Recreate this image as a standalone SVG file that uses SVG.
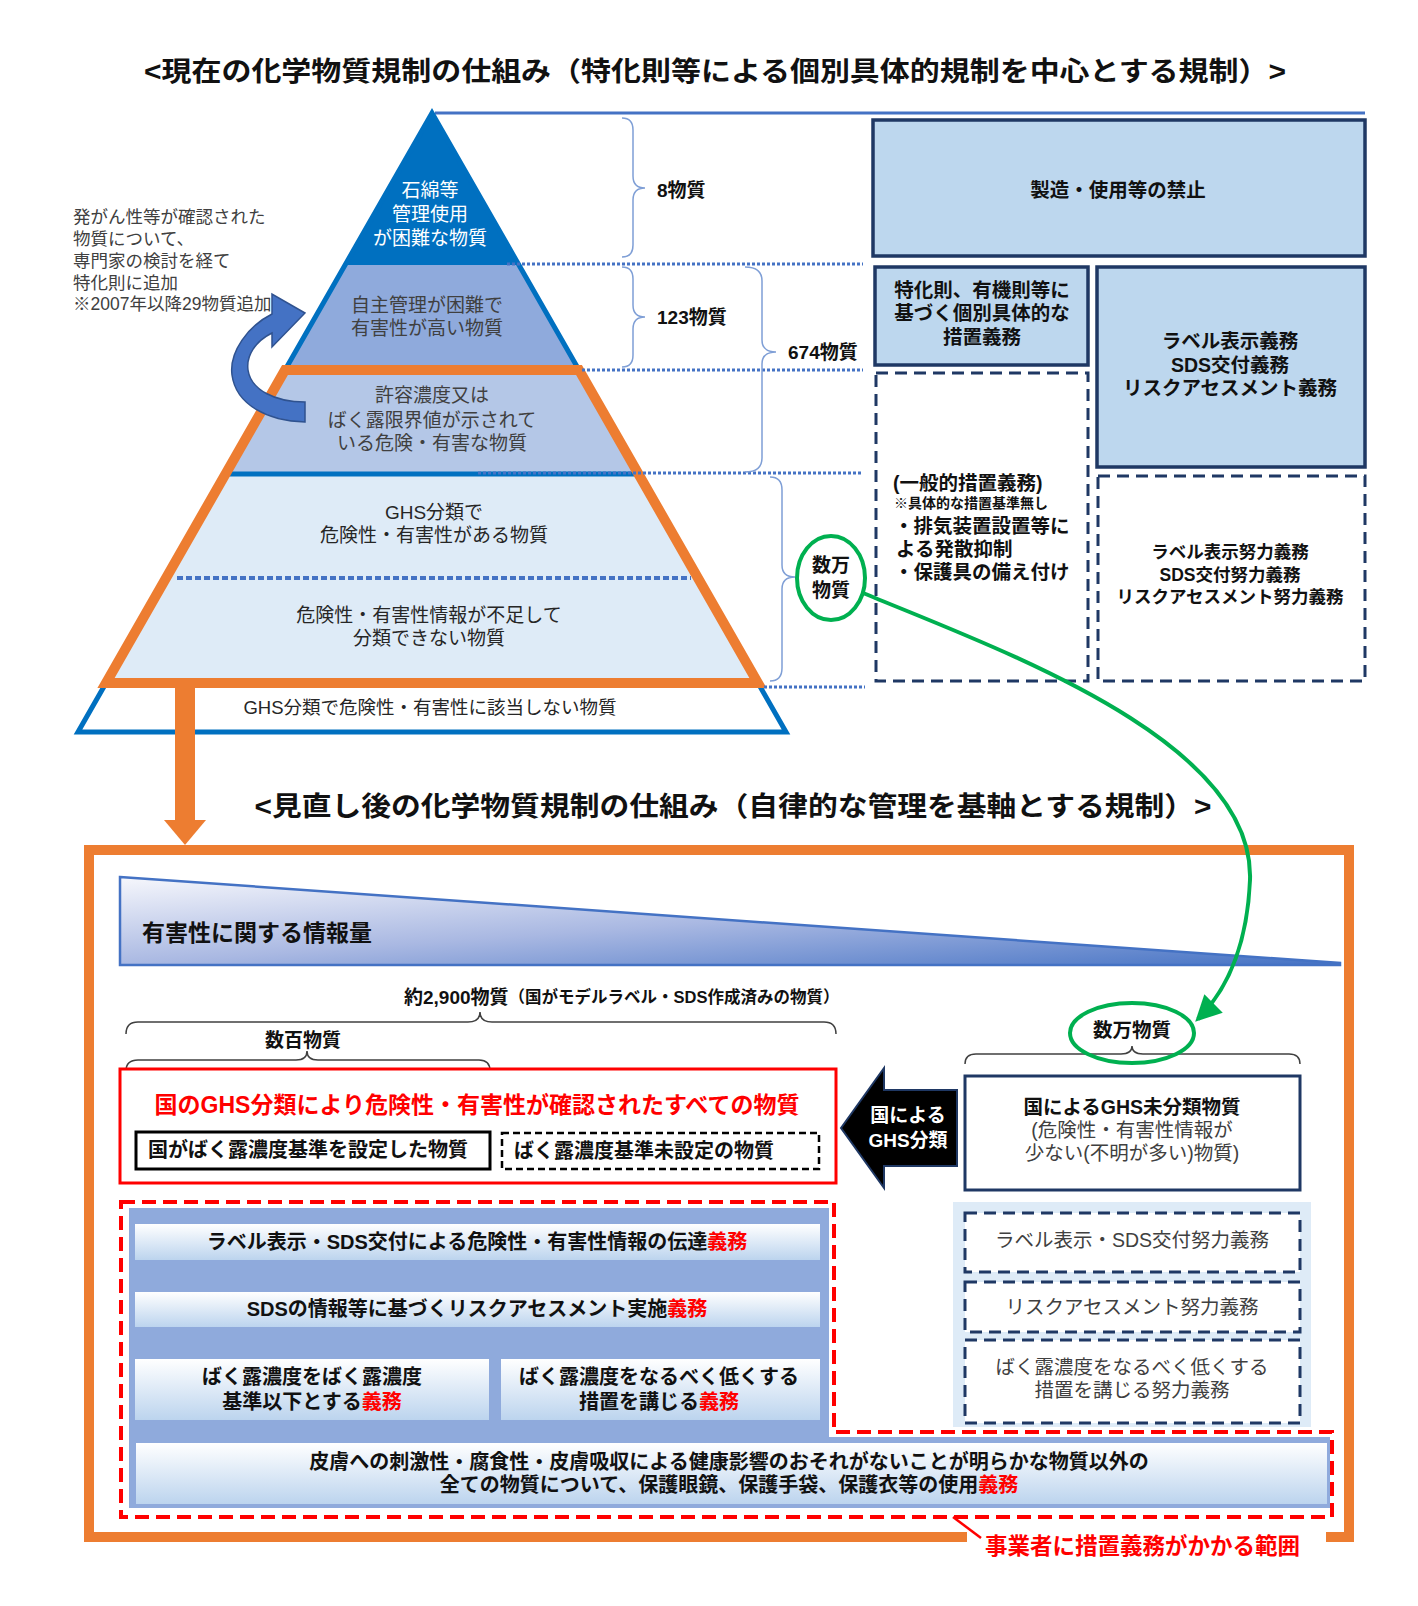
<svg xmlns="http://www.w3.org/2000/svg" width="1418" height="1606" viewBox="0 0 1418 1606">
<defs>
<style>
text{font-family:"Liberation Sans","Noto Sans CJK JP","Noto Sans CJK SC",sans-serif;}
.b{font-weight:700;fill:#111;}
.n{font-weight:400;fill:#404040;}
.r{fill:#FF0000;}
.w{fill:#FFFFFF;}
.c{text-anchor:middle;dominant-baseline:central;}
.l{dominant-baseline:central;}
.solidbox{fill:#BDD7EE;stroke:#1F3864;stroke-width:3.5;}
.dashbox{fill:#FFFFFF;stroke:#1F3864;stroke-width:3;stroke-dasharray:12 7;}
.dot{stroke:#4472C4;stroke-width:3;stroke-dasharray:3 2;fill:none;}
.brace{fill:none;stroke:#7F9FD6;stroke-width:1.5;}
.brace2{fill:none;stroke:#404040;stroke-width:1.5;}
.bar{fill:url(#barG);}
</style>
<linearGradient id="barG" x1="0" y1="0" x2="0" y2="1"><stop offset="0" stop-color="#FFFFFF"/><stop offset="1" stop-color="#BCD4EE"/></linearGradient>
<linearGradient id="infoG" x1="0" y1="0" x2="1" y2="1"><stop offset="0" stop-color="#F6F7FC"/><stop offset="0.5" stop-color="#A9B8E2"/><stop offset="1" stop-color="#4472C4"/></linearGradient>
<marker id="gArrow" markerUnits="userSpaceOnUse" markerWidth="26" markerHeight="26" viewBox="0 0 26 26" refX="22" refY="13" orient="auto"><path d="M0,0 L26,13 L0,26 z" fill="#00B050"/></marker>
</defs>
<rect x="0" y="0" width="1418" height="1606" fill="#FFFFFF"/>

<!-- titles -->
<g id="title1"><text class="b c" x="715" y="72" font-size="27" textLength="1142" lengthAdjust="spacingAndGlyphs">&lt;現在の化学物質規制の仕組み（特化則等による個別具体的規制を中心とする規制）&gt;</text></g>
<g id="title2"><text class="b c" x="733" y="807" font-size="27" textLength="957" lengthAdjust="spacingAndGlyphs">&lt;見直し後の化学物質規制の仕組み（自律的な管理を基軸とする規制）&gt;</text></g>

<!-- top blue rule -->
<line x1="435" y1="113" x2="1365" y2="113" stroke="#4472C4" stroke-width="3"/>

<!-- pyramid -->
<g id="pyramid">
<polygon points="432,113 519,265 345,265" fill="#0070C0"/>
<polygon points="345,265 519,265 579,370 285,370" fill="#8FAADC"/>
<polygon points="285,370 579,370 638.5,474 225.5,474" fill="#B4C7E7"/>
<polygon points="225.5,474 638.5,474 758,683 106,683" fill="#DEEBF7"/>
<polygon points="106,683 758,683 786,732 78,732" fill="#FFFFFF"/>
<polygon points="432,113 786,732 78,732" fill="none" stroke="#0070C0" stroke-width="5"/>
<line x1="225" y1="474" x2="639" y2="474" stroke="#0070C0" stroke-width="5"/>
<line x1="177" y1="578" x2="691" y2="578" stroke="#4472C4" stroke-width="4" stroke-dasharray="6 3"/>
<polygon points="285,370 579,370 758,683 106,683" fill="none" stroke="#ED7D31" stroke-width="10" stroke-linejoin="miter"/>
</g>
<g id="tier1"><text class="c w" x="430" y="190" font-size="19">石綿等</text><text class="c w" x="430" y="214" font-size="19">管理使用</text><text class="c w" x="430" y="238" font-size="19">が困難な物質</text></g>
<g id="tier2"><text class="n c" x="427" y="305" font-size="19">自主管理が困難で</text><text class="n c" x="427" y="328" font-size="19">有害性が高い物質</text></g>
<g id="tier3"><text class="n c" x="432" y="395" font-size="19">許容濃度又は</text><text class="n c" x="432" y="420" font-size="19">ばく露限界値が示されて</text><text class="n c" x="432" y="443" font-size="19">いる危険・有害な物質</text></g>
<g id="tier4"><text class="n c" x="434" y="512" font-size="19" style="fill:#262626">GHS分類で</text><text class="n c" x="434" y="535" font-size="19" style="fill:#262626">危険性・有害性がある物質</text></g>
<g id="tier4b"><text class="n c" x="429" y="615" font-size="19" style="fill:#262626">危険性・有害性情報が不足して</text><text class="n c" x="429" y="638" font-size="19" style="fill:#262626">分類できない物質</text></g>
<g id="tier5"><text class="n c" x="430" y="707" font-size="18.5" style="fill:#262626">GHS分類で危険性・有害性に該当しない物質</text></g>

<!-- left annotation -->
<g id="note">
<text class="n l" x="73" y="217" font-size="17.5">発がん性等が確認された</text>
<text class="n l" x="73" y="239" font-size="17.5">物質について、</text>
<text class="n l" x="73" y="261" font-size="17.5">専門家の検討を経て</text>
<text class="n l" x="73" y="283" font-size="17.5">特化則に追加</text>
<text class="n l" x="73" y="304" font-size="17.5">※2007年以降29物質追加</text>
</g>

<!-- guide dotted lines -->
<g id="guides">
<line class="dot" x1="507" y1="264" x2="863" y2="264"/>
<line class="dot" x1="582" y1="370" x2="863" y2="370"/>
<line class="dot" x1="478" y1="473" x2="863" y2="473"/>
<line class="dot" x1="764" y1="687" x2="865" y2="687"/>
</g>

<!-- braces -->
<g id="braces">
<path class="brace" d="M622,118 Q633,118 633,130 L633,176 Q633,188 645,188 Q633,188 633,200 L633,245 Q633,257 622,257"/>
<path class="brace" d="M622,267 Q633,267 633,279 L633,305 Q633,317 645,317 Q633,317 633,329 L633,355 Q633,367 622,367"/>
<path class="brace" d="M745,267 Q762,267 762,281 L762,340 Q762,352 776,352 Q762,352 762,364 L762,458 Q762,472 745,472"/>
<path class="brace" d="M770,477 Q782,477 782,490 L782,565 Q782,577 795,577 Q782,577 782,589 L782,668 Q782,681 770,681"/>
<path class="brace2" d="M126,1034 Q126,1022 138,1022 L468,1022 Q480,1022 480,1012 Q480,1022 492,1022 L824,1022 Q836,1022 836,1034"/>
<path class="brace2" d="M126,1071 Q126,1060 138,1060 L296,1060 Q307,1060 307,1051 Q307,1060 318,1060 L479,1060 Q490,1060 490,1071"/>
<path class="brace2" d="M965,1064 Q965,1054 976,1054 L1121,1054 Q1132,1054 1132,1046 Q1132,1054 1143,1054 L1289,1054 Q1300,1054 1300,1064"/>
</g>
<g id="count8"><text class="b l" x="657" y="190" font-size="19">8物質</text></g>
<g id="count123"><text class="b l" x="657" y="317" font-size="19">123物質</text></g>
<g id="count674"><text class="b l" x="788" y="352" font-size="19">674物質</text></g>

<!-- right boxes -->
<g id="boxBan"><rect class="solidbox" x="873" y="120" width="492" height="136"/><text class="b c" x="1118" y="190" font-size="19.5">製造・使用等の禁止</text></g>
<g id="boxSpecific"><rect class="solidbox" x="875" y="267" width="213" height="98"/>
<text class="b c" x="982" y="290" font-size="19.5">特化則、有機則等に</text>
<text class="b c" x="982" y="313" font-size="19.5">基づく個別具体的な</text>
<text class="b c" x="982" y="337" font-size="19.5">措置義務</text></g>
<g id="boxLabel"><rect class="solidbox" x="1097" y="267" width="268" height="200"/>
<text class="b c" x="1230" y="341" font-size="19.5">ラベル表示義務</text>
<text class="b c" x="1230" y="365" font-size="19.5">SDS交付義務</text>
<text class="b c" x="1230" y="388" font-size="19.5">リスクアセスメント義務</text></g>
<g id="boxGeneral"><rect class="dashbox" x="876" y="373" width="212" height="308"/>
<text class="b l" x="893" y="483" font-size="19.5">(一般的措置義務)</text>
<text class="b l" x="894" y="503" font-size="14">※具体的な措置基準無し</text>
<text class="b l" x="894" y="526" font-size="19.5">・排気装置設置等に</text>
<text class="b l" x="896" y="549" font-size="19.5">よる発散抑制</text>
<text class="b l" x="894" y="572" font-size="19.5">・保護具の備え付け</text></g>
<g id="boxEffort"><rect class="dashbox" x="1098" y="476" width="267" height="205"/>
<text class="b c" x="1230" y="552" font-size="17.5">ラベル表示努力義務</text>
<text class="b c" x="1230" y="575" font-size="17.5">SDS交付努力義務</text>
<text class="b c" x="1230" y="597" font-size="17.5">リスクアセスメント努力義務</text></g>
<g id="tensOfThousands1"><ellipse cx="831" cy="578" rx="34" ry="42" fill="#FFFFFF" stroke="#00B050" stroke-width="4"/>
<text class="b c" x="831" y="565" font-size="19">数万</text><text class="b c" x="831" y="590" font-size="19">物質</text></g>

<!-- lower frame -->
<g id="frame"><path d="M967,1537 L89,1537 L89,850 L1349,850 L1349,1537 L1326,1537" fill="none" stroke="#ED7D31" stroke-width="10"/></g>
<g id="infoAmount"><polygon points="120,877 1340,963 1340,965 120,965" fill="url(#infoG)" stroke="#4472C4" stroke-width="2.5"/>
<text class="b l" x="142" y="933" font-size="23">有害性に関する情報量</text></g>
<g id="count2900"><text class="b l" x="404" y="997" font-size="19">約2,900物質<tspan font-size="16.5">（国がモデルラベル・SDS作成済みの物質）</tspan></text></g>
<g id="countHundreds"><text class="b c" x="303" y="1040" font-size="19">数百物質</text></g>

<g id="ghsConfirmed"><rect x="120" y="1069" width="716" height="114" fill="#FFFFFF" stroke="#FF0000" stroke-width="3"/>
<text class="b c r" x="477" y="1105" font-size="23" style="fill:#FF0000">国のGHS分類により危険性・有害性が確認されたすべての物質</text></g>
<g id="setStandard"><rect x="136" y="1132" width="354" height="37" fill="#FFFFFF" stroke="#000000" stroke-width="3"/>
<text class="b l" x="148" y="1150" font-size="20">国がばく露濃度基準を設定した物質</text></g>
<g id="noStandard"><rect x="502" y="1133" width="317" height="36" fill="#FFFFFF" stroke="#000000" stroke-width="2.5" stroke-dasharray="7 4"/>
<text class="b l" x="514" y="1151" font-size="20">ばく露濃度基準未設定の物質</text></g>

<g id="ghsArrow"><polygon points="841,1128 884,1068 884,1090 957,1090 957,1166 884,1166 884,1188" fill="#000000" stroke="#1F3864" stroke-width="2"/>
<text class="b c w" x="908" y="1115" font-size="19" style="fill:#FFFFFF">国による</text>
<text class="b c w" x="908" y="1140" font-size="19" style="fill:#FFFFFF">GHS分類</text></g>

<g id="unclassified"><rect x="965" y="1076" width="335" height="114" fill="#FFFFFF" stroke="#1F3864" stroke-width="3"/>
<text class="b c" x="1132" y="1107" font-size="19.5">国によるGHS未分類物質</text>
<text class="n c" x="1132" y="1130" font-size="19.5">(危険性・有害性情報が</text>
<text class="n c" x="1132" y="1153" font-size="19.5">少ない(不明が多い)物質)</text></g>
<g id="tensOfThousands2"><ellipse cx="1132" cy="1033" rx="62" ry="30" fill="none" stroke="#00B050" stroke-width="4"/>
<text class="b c" x="1132" y="1030" font-size="19.5">数万物質</text></g>

<!-- effort duties panel -->
<g id="effortPanel"><rect x="953" y="1202" width="358" height="225" fill="#DEEBF7"/>
<rect class="dashbox" x="965" y="1213" width="335" height="59"/>
<text class="n c" x="1132" y="1240" font-size="19.5">ラベル表示・SDS交付努力義務</text>
<rect class="dashbox" x="965" y="1282" width="335" height="50"/>
<text class="n c" x="1132" y="1307" font-size="19.5">リスクアセスメント努力義務</text>
<rect class="dashbox" x="965" y="1340" width="335" height="83"/>
<text class="n c" x="1132" y="1367" font-size="19.5">ばく露濃度をなるべく低くする</text>
<text class="n c" x="1132" y="1390" font-size="19.5">措置を講じる努力義務</text></g>

<!-- duties panel -->
<g id="dutyPanel"><polygon points="129,1208 829,1208 829,1437 1330,1437 1330,1508 129,1508" fill="#8FAADC"/></g>
<g id="duty1"><rect class="bar" x="135" y="1224" width="685" height="36"/>
<text class="b c" x="477" y="1242" font-size="20">ラベル表示・SDS交付による危険性・有害性情報の伝達<tspan style="fill:#FF0000">義務</tspan></text></g>
<g id="duty2"><rect class="bar" x="135" y="1292" width="685" height="35"/>
<text class="b c" x="477" y="1309" font-size="20">SDSの情報等に基づくリスクアセスメント実施<tspan style="fill:#FF0000">義務</tspan></text></g>
<g id="duty3a"><rect class="bar" x="135" y="1359" width="354" height="61"/>
<text class="b c" x="312" y="1377" font-size="20">ばく露濃度をばく露濃度</text>
<text class="b c" x="312" y="1402" font-size="20">基準以下とする<tspan style="fill:#FF0000">義務</tspan></text></g>
<g id="duty3b"><rect class="bar" x="501" y="1359" width="319" height="61"/>
<text class="b c" x="659" y="1377" font-size="20">ばく露濃度をなるべく低くする</text>
<text class="b c" x="659" y="1402" font-size="20">措置を講じる<tspan style="fill:#FF0000">義務</tspan></text></g>
<g id="duty4"><rect class="bar" x="136" y="1443" width="1191" height="61"/>
<text class="b c" x="729" y="1462" font-size="20">皮膚への刺激性・腐食性・皮膚吸収による健康影響のおそれがないことが明らかな物質以外の</text>
<text class="b c" x="729" y="1485" font-size="20">全ての物質について、保護眼鏡、保護手袋、保護衣等の使用<tspan style="fill:#FF0000">義務</tspan></text></g>
<g id="dutyScope"><path d="M121,1202 L834,1202 L834,1432 L1332,1432 L1332,1517 L121,1517 Z" fill="none" stroke="#FF0000" stroke-width="4" stroke-dasharray="14 7"/>
<text class="b l" x="985" y="1546" font-size="22.5" style="fill:#FF0000">事業者に措置義務がかかる範囲</text></g>

<!-- connectors -->
<g id="connectors">
<line x1="953" y1="1517" x2="981" y2="1538" stroke="#FF0000" stroke-width="2.5"/>
<rect x="175" y="683" width="20" height="139" fill="#ED7D31"/>
<polygon points="164,820 206,820 185,845" fill="#ED7D31"/>
<path d="M305,402 L305,422 C268,421 236,405 232,375 C229,352 248,326 272,314 L272,294 L305,313 L272,347 L272,333 C256,341 246,355 248,370 C251,390 275,402 305,402 Z" fill="#4472C4" stroke="#2F528F" stroke-width="1.5"/>
<path d="M863,593 C1000,650 1255,740 1250,880 C1247,950 1225,992 1198,1019" fill="none" stroke="#00B050" stroke-width="4" marker-end="url(#gArrow)"/>
</g>
</svg>
